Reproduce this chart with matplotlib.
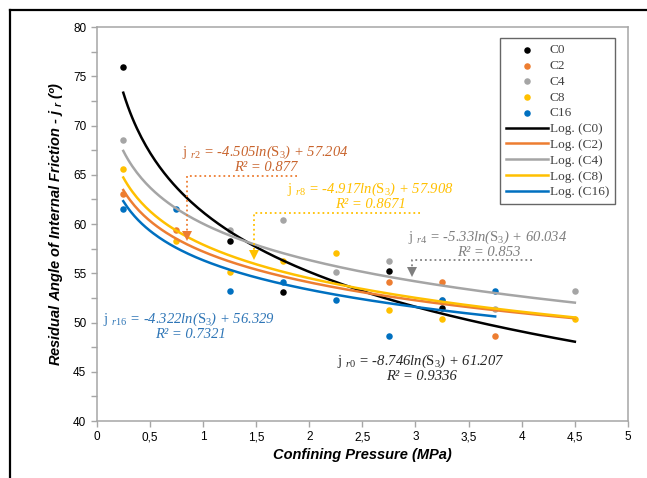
import numpy as np
import matplotlib
matplotlib.use("Agg")
import matplotlib.pyplot as plt
from matplotlib.lines import Line2D
from matplotlib.ticker import MultipleLocator, FuncFormatter

plt.rcParams['mathtext.fontset'] = 'custom'
plt.rcParams['mathtext.rm'] = 'Liberation Serif'
plt.rcParams['mathtext.it'] = 'Liberation Serif:italic'
plt.rcParams['mathtext.bf'] = 'Liberation Serif:bold'
plt.rcParams['mathtext.sf'] = 'Liberation Sans:italic:bold'

# measured points (confining pressure MPa, residual friction angle deg)
x_c0 = [0.25, 1.25, 1.75, 2.75, 3.25]
y_c0 = [75.9, 58.3, 53.1, 55.2, 51.5]
x_c2 = [0.25, 0.75, 2.75, 3.25, 3.75]
y_c2 = [63.0, 59.4, 54.1, 54.1, 48.6]
x_c4 = [0.25, 1.25, 1.75, 2.25, 2.75, 3.25, 3.75, 4.5]
y_c4 = [68.5, 59.4, 60.4, 55.1, 56.2, 52.3, 51.4, 53.2]
x_c8 = [0.25, 0.75, 1.25, 1.75, 2.25, 2.75, 3.25, 4.5]
y_c8 = [65.6, 58.3, 55.1, 56.2, 57.1, 51.3, 50.4, 50.4]
x_c16 = [0.25, 0.75, 1.25, 1.75, 2.25, 2.75, 3.25, 3.75]
y_c16 = [61.5, 61.5, 53.2, 54.1, 52.3, 48.6, 52.3, 53.2]

names = ['C0', 'C2', 'C4', 'C8', 'C16']
tags = ['r0', 'r2', 'r4', 'r8', 'r16']
# log fits: y = a*ln(x) + b
fit_a = [-8.746, -4.505, -5.33, -4.917, -4.322]
fit_b = [61.207, 57.204, 60.034, 57.908, 56.329]
fit_r2 = ['0.9336', '0.877', '0.853', '0.8671', '0.7321']
fit_range = [(0.25, 4.5), (0.25, 4.5), (0.25, 4.5), (0.25, 4.5), (0.25, 3.75)]

colors = ['#000000', '#ED7D31', '#A5A5A5', '#FFC000', '#0070C0']
text_colors = ['#262626', '#C8642D', '#7F7F7F', '#FFC000', '#2E75B6']

xs = [x_c0, x_c2, x_c4, x_c8, x_c16]
ys = [y_c0, y_c2, y_c4, y_c8, y_c16]

fig = plt.figure(figsize=(6.47, 4.78), dpi=100)
ax = fig.add_axes([0.1495, 0.1192, 0.8211, 0.8243])

for x, y, c, n in zip(xs, ys, colors, names):
    ax.scatter(x, y, s=22, color=c, label=n, zorder=3, linewidths=0)

for a, b, (x0, x1), c, n in zip(fit_a, fit_b, fit_range, colors, names):
    xx = np.linspace(x0, x1, 200)
    ax.plot(xx, a * np.log(xx) + b, color=c, lw=1.8, label='Log. (%s)' % n, zorder=4)


def to_data(px, py):
    return (px - 96.7) / 106.26, 40 + (421 - py) / 9.85


# equation label centres in pixels of the original chart
eq_px = [(421, 361), (265, 152), (488, 237), (370, 189), (189, 319)]
for i, (px, py) in enumerate(eq_px):
    line1 = r'$\mathrm{j}$ $_{%s}$ = -%s$ln$($\mathrm{S}_{3}$) + %.3f' % (
        tags[i], str(-fit_a[i]), fit_b[i])
    line2 = 'R² = ' + fit_r2[i]
    dx, dy = to_data(px, py)
    ax.text(dx, dy, line1, color=text_colors[i], ha='center', va='center',
            family='Liberation Serif', style='italic', fontsize=10.5)
    dx2, dy2 = to_data(px + 1, py + 15)
    ax.text(dx2, dy2, line2, color=text_colors[i], ha='center', va='center',
            family='Liberation Serif', style='italic', fontsize=10.5)

# leader lines: series index, arrow x, horizontal line y, far end x
leaders = [(1, 0.85, 64.9, 1.885), (3, 1.48, 61.1, 3.04), (2, 2.966, 56.35, 4.096)]
lead_colors = {1: '#ED7D31', 3: '#FFC000', 2: '#7F7F7F'}
for i, xa, yh, xe in leaders:
    c = lead_colors[i]
    tip = fit_a[i] * np.log(xa) + fit_b[i] + 0.3
    ax.plot([xe, xa, xa], [yh, yh, tip + 0.8], ls=':', color=c, lw=1.3, zorder=5)
    ax.plot([xa], [tip + 0.55], marker='v', ms=7.5, color=c, mew=0, zorder=5)

ax.set_xlim(0, 5)
ax.set_ylim(40, 80)
ax.xaxis.set_major_locator(MultipleLocator(0.5))
ax.yaxis.set_major_locator(MultipleLocator(5))
ax.yaxis.set_minor_locator(MultipleLocator(2.5))
ax.xaxis.set_major_formatter(FuncFormatter(lambda v, p: ('%g' % v).replace('.', ',')))
for sp in ax.spines.values():
    sp.set_color('#A6A6A6')
    sp.set_linewidth(1.1)
ax.tick_params(which='both', direction='out', length=4, color='#A6A6A6', width=1,
               labelsize=8.5, labelcolor='#000000')
for lab in ax.get_xticklabels() + ax.get_yticklabels():
    lab.set_family('Liberation Sans')

ax.set_xlabel('Confining Pressure (MPa)', family='Liberation Sans', weight='bold',
              style='italic', fontsize=10.5, labelpad=3)
ax.set_ylabel(r'Residual Angle of Internal Friction - j $_{\mathsf{r}}$ (º)',
              family='Liberation Sans', weight='bold', style='italic', fontsize=10.5,
              labelpad=6)

leg = ax.legend(loc='upper right', bbox_to_anchor=(0.9755, 0.972), borderaxespad=0,
                frameon=True, fancybox=False, edgecolor='#404040',
                prop={'family': 'Liberation Serif', 'size': 9.5},
                handlelength=3.2, labelspacing=0.27, handletextpad=0.1,
                borderpad=0.45, scatterpoints=1)
leg.get_frame().set_linewidth(1.0)
for t in leg.get_texts():
    t.set_color('#404040')

# outer frame (left and top edges visible)
fig.add_artist(Line2D([10 / 647, 10 / 647], [0, 1 - 10 / 478], color='black', lw=1.6,
                      transform=fig.transFigure))
fig.add_artist(Line2D([10 / 647, 1], [1 - 10 / 478, 1 - 10 / 478], color='black', lw=1.6,
                      transform=fig.transFigure))

fig.savefig('out.png', dpi=100)
